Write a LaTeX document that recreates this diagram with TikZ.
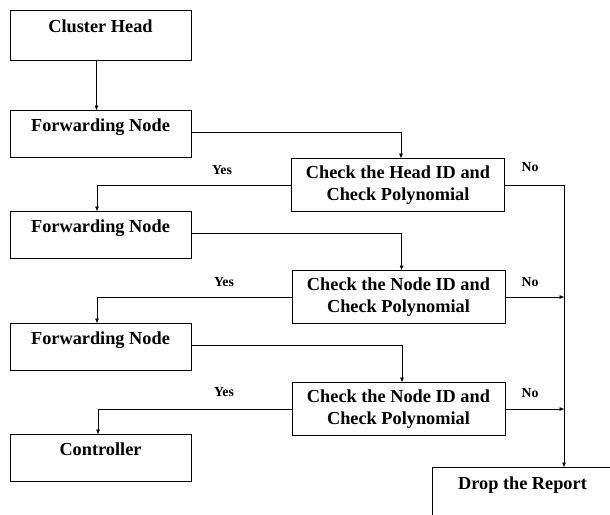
\documentclass[tikz,border=0pt]{standalone}
\usepackage{fontspec}
\setmainfont{Liberation Serif}
\usetikzlibrary{arrows.meta}
\begin{document}
\begin{tikzpicture}[x=1pt,y=-1pt,
  box/.style={draw, line width=0.9pt, minimum width=181pt, inner xsep=0pt, inner ysep=0pt,
    font=\fontsize{18.3}{22}\selectfont\bfseries, anchor=north},
  fwd/.style={box, text height=21pt, text depth=26pt},
  chk/.style={draw, line width=0.9pt, align=center, minimum width=213pt, minimum height=53pt,
    inner sep=0pt, font=\fontsize{18.3}{22.5}\selectfont\bfseries},
  lab/.style={font=\fontsize{13.8}{16}\selectfont\bfseries, inner sep=0pt},
  arr/.style={line width=0.7pt, -{Triangle[length=4.5pt,width=3.5pt]}}]
\useasboundingbox[fill=white] (0,0) rectangle (610,514);
\node[box, text height=22pt, text depth=28pt] (ch) at (100.5,10) {Cluster Head};
\node[fwd] (f1) at (100.5,110) {Forwarding Node};
\node[chk] (c1) at (398,185) {Check the Head ID and\\Check Polynomial};
\node[fwd] (f2) at (100.5,211) {Forwarding Node};
\node[chk] (c2) at (398.5,297) {Check the Node ID and\\Check Polynomial};
\node[fwd] (f3) at (100.5,323) {Forwarding Node};
\node[chk] (c3) at (398.5,409) {Check the Node ID and\\Check Polynomial};
\node[fwd] (ctl) at (100.5,434) {Controller};
\node[box, text height=22pt, text depth=26pt] (drop) at (522.5,467) {Drop the Report};
\coordinate (dropin) at ([xshift=41.5pt]drop.north);

\draw[arr] ([xshift=-4pt]ch.south) -- ([xshift=-4pt]f1.north);
\draw[arr] ([yshift=2pt]f1.east) -| ([xshift=3pt]c1.north);
\draw[arr] (c1.west) -| ([xshift=-3.5pt]f2.north);
\draw[arr] (c1.east) -| (dropin);
\draw[arr] ([yshift=1.5pt]f2.east) -| ([xshift=3pt]c2.north);
\draw[arr] (c2.west) -| ([xshift=-3.5pt]f3.north);
\draw[arr] (c2.east) -- (c2.east -| dropin);
\draw[arr] ([yshift=2pt]f3.east) -| ([xshift=3.5pt]c3.north);
\draw[arr] (c3.west) -| ([xshift=-2.5pt]ctl.north);
\draw[arr] (c3.east) -- (c3.east -| dropin);

\node[lab] (y1) at (222,170) {Yes};
\node[lab] (y2) at (224,282) {Yes};
\node[lab] (y3) at (224,392) {Yes};
\node[lab] (n1) at (530,167) {No};
\node[lab] (n2) at (530,282) {No};
\node[lab] (n3) at (530,393) {No};
\end{tikzpicture}
\end{document}
